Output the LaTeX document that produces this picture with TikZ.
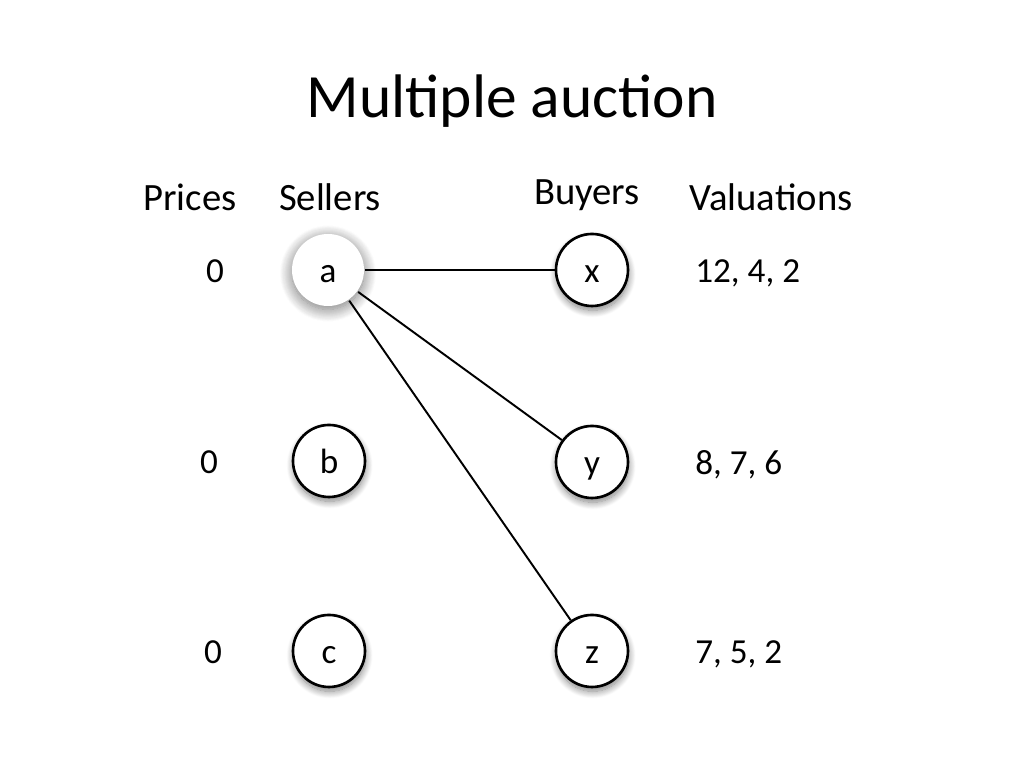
\documentclass[tikz,border=0pt]{standalone}
\usepackage{fontspec}
\setmainfont{Carlito}
\usetikzlibrary{
    positioning,
    shadows.blur
    }

\begin{document}
\begin{tikzpicture}
\tikzset{party/.style =
        {
            shape=circle,
            line width=1.5pt,
            draw=black,
            fill=white,
            minimum size=1.44cm,
            inner sep=0cm,
            text height=0.54cm,
            text depth=0.04cm,
            font=\fontsize{20}{24}\selectfont,
            blur shadow={shadow xshift=0.4pt, shadow yshift=-2.5pt,
                shadow blur radius=4pt, shadow blur steps=12,
                shadow opacity=50}
        }
}

\tikzset{lead/.style =
        {
            party,
            draw=none,
            blur shadow={shadow xshift=0pt, shadow yshift=-2pt,
                shadow blur radius=7pt, shadow blur steps=20,
                shadow opacity=30}
        }
}

\tikzset{label/.style =
        {
            inner sep=0cm,
            text height=0.56cm,
            text depth=0.04cm,
            font=\fontsize{20}{24}\selectfont
        }
}

\tikzset{header/.style =
        {
            anchor=base,
            inner sep=0cm,
            font=\fontsize{22}{24}\selectfont
        }
}

\tikzset{bid/.style = { line width=1.1pt } }

		\useasboundingbox (0,0) rectangle (20.48,15.36);

		\node[font=\fontsize{35}{40}\selectfont] (title) at (10.24,13.34) {Multiple auction};

		\foreach \name / \x / \y / \txt in
			{prices/3.8/11.14/Prices,
				sellers/6.6/11.14/Sellers,
				buyers/11.74/11.26/Buyers,
				valuations/15.42/11.14/Valuations}
		\node[header] (head-\name) at (\x,\y) {\txt};

		\node[lead] (a) at (6.56,9.96) {a};
		\node[party] (b) at (6.58,6.14) {b};
		\node[party] (c) at (6.58,2.34) {c};

		\node[party] (x) at (11.84,9.96) {x};
		\node[party] (y) at (11.84,6.12) {y};
		\node[party] (z) at (11.84,2.34) {z};

		\foreach \s / \px in {a/4.3, b/4.18, c/4.26}
		\node[label] (price-\s) at (\px,0 |- \s) {0};

		\node[label, anchor=west] (val-x) at (13.9,0 |- x) {12, 4, 2};
		\node[label, anchor=west] (val-y) at (13.9,0 |- y) {8, 7, 6};
		\node[label, anchor=west] (val-z) at (13.9,0 |- z) {7, 5, 2};

		\foreach \finish in {x, y, z}
			\draw [bid] (a) -- (\finish);

	\end{tikzpicture}
\end{document}
